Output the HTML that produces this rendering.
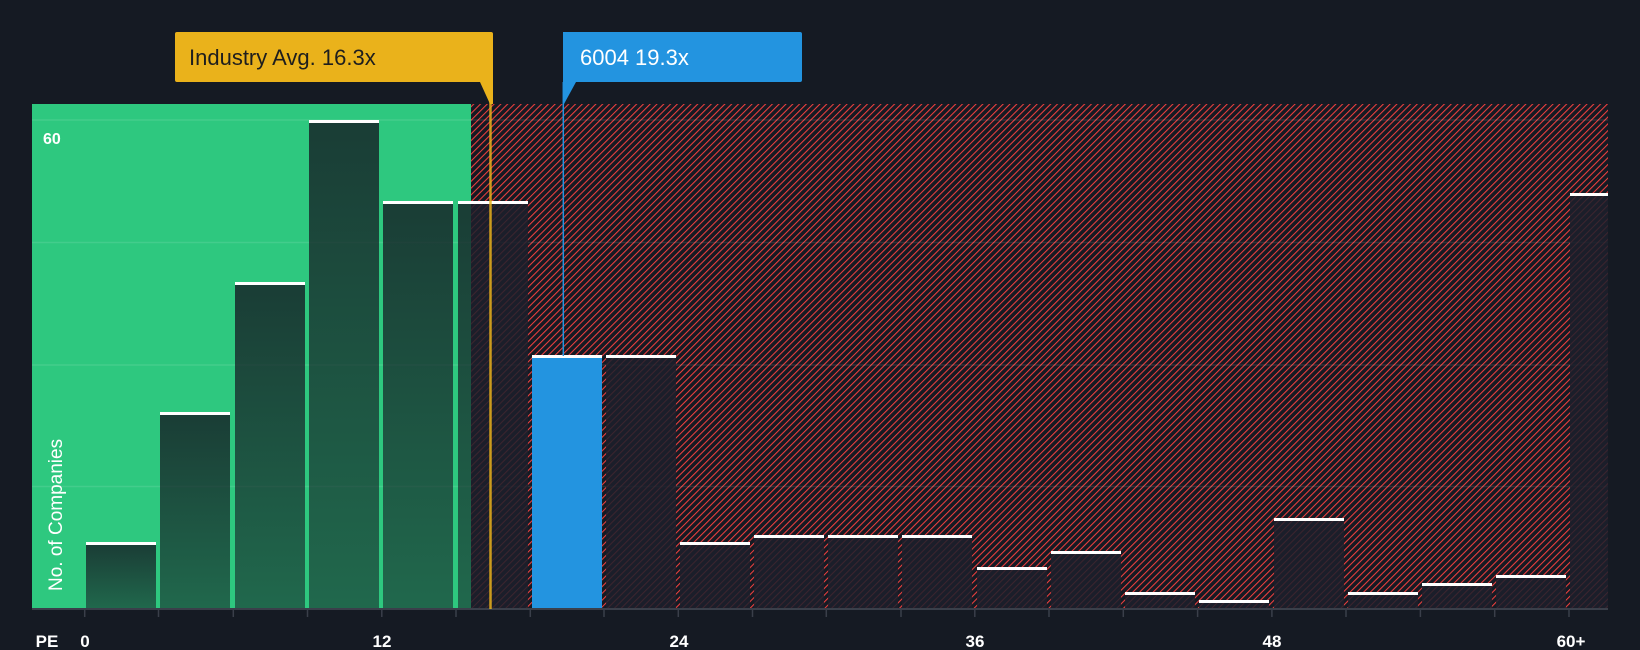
<!DOCTYPE html>
<html><head><meta charset="utf-8"><style>
html,body{margin:0;padding:0;background:#151a23;}
svg{display:block;font-family:"Liberation Sans",sans-serif;}
</style></head><body>
<svg width="1640" height="650" viewBox="0 0 1640 650" xmlns="http://www.w3.org/2000/svg">
<defs>
<pattern id="h" patternUnits="userSpaceOnUse" width="4.8" height="4.8" patternTransform="rotate(45)">
<rect width="4.8" height="4.8" fill="#151a23"/>
<line x1="0" y1="0" x2="0" y2="4.8" stroke="#f0403f" stroke-width="2.1"/>
</pattern>
<linearGradient id="g" x1="0" y1="0" x2="0" y2="1">
<stop offset="0" stop-color="#151a23" stop-opacity="0.8"/>
<stop offset="1" stop-color="#151a23" stop-opacity="0.55"/>
</linearGradient>
<clipPath id="cg"><rect x="0" y="0" width="471" height="650"/></clipPath>
<clipPath id="cr"><rect x="471" y="0" width="1200" height="650"/></clipPath>
<g id="bars">
<rect x="86" y="544" width="70" height="65"/>
<rect x="160" y="414" width="70" height="195"/>
<rect x="235" y="283" width="70" height="326"/>
<rect x="309" y="121" width="70" height="488"/>
<rect x="383" y="202" width="70" height="407"/>
<rect x="458" y="202" width="70" height="407"/>
<rect x="606" y="356" width="70" height="253"/>
<rect x="680" y="544" width="70" height="65"/>
<rect x="754" y="536" width="70" height="73"/>
<rect x="828" y="536" width="70" height="73"/>
<rect x="902" y="536" width="70" height="73"/>
<rect x="977" y="568" width="70" height="41"/>
<rect x="1051" y="552" width="70" height="57"/>
<rect x="1125" y="593" width="70" height="16"/>
<rect x="1199" y="601" width="70" height="8"/>
<rect x="1274" y="520" width="70" height="89"/>
<rect x="1348" y="593" width="70" height="16"/>
<rect x="1422" y="584" width="70" height="25"/>
<rect x="1496" y="576" width="70" height="33"/>
<rect x="1570" y="194" width="38" height="415"/>
</g>
</defs>
<rect width="1640" height="650" fill="#151a23"/>
<rect x="32" y="104" width="439" height="505" fill="#2ec87f"/>
<rect x="471" y="104" width="1137" height="505" fill="url(#h)"/>
<g stroke="#ffffff" stroke-opacity="0.1" stroke-width="1.5">
<line x1="32" y1="120" x2="1608" y2="120"/>
<line x1="32" y1="242.5" x2="1608" y2="242.5"/>
<line x1="32" y1="365" x2="1608" y2="365"/>
<line x1="32" y1="486.5" x2="1608" y2="486.5"/>
</g>
<use href="#bars" fill="url(#g)" clip-path="url(#cg)"/>
<use href="#bars" fill="#1c202b" fill-opacity="0.85" clip-path="url(#cr)"/>
<rect x="532" y="356" width="70" height="253" fill="#2394e0"/>
<g fill="#ffffff">
<rect x="86" y="542" width="70" height="3"/>
<rect x="160" y="412" width="70" height="3"/>
<rect x="235" y="282" width="70" height="3"/>
<rect x="309" y="120" width="70" height="3"/>
<rect x="383" y="201" width="70" height="3"/>
<rect x="458" y="201" width="70" height="3"/>
<rect x="532" y="355" width="70" height="3"/>
<rect x="606" y="355" width="70" height="3"/>
<rect x="680" y="542" width="70" height="3"/>
<rect x="754" y="535" width="70" height="3"/>
<rect x="828" y="535" width="70" height="3"/>
<rect x="902" y="535" width="70" height="3"/>
<rect x="977" y="567" width="70" height="3"/>
<rect x="1051" y="551" width="70" height="3"/>
<rect x="1125" y="592" width="70" height="3"/>
<rect x="1199" y="600" width="70" height="3"/>
<rect x="1274" y="518" width="70" height="3"/>
<rect x="1348" y="592" width="70" height="3"/>
<rect x="1422" y="583" width="70" height="3"/>
<rect x="1496" y="575" width="70" height="3"/>
<rect x="1570" y="193" width="38" height="3"/>
</g>
<line x1="32" y1="609" x2="1608" y2="609" stroke="#3a3f4a" stroke-width="2"/>
<g stroke="#3a3f4a" stroke-width="1.5">
<line x1="84.7" y1="609" x2="84.7" y2="617"/><line x1="158.5" y1="609" x2="158.5" y2="617"/><line x1="233.3" y1="609" x2="233.3" y2="617"/><line x1="307.5" y1="609" x2="307.5" y2="617"/><line x1="381.8" y1="609" x2="381.8" y2="617"/><line x1="456" y1="609" x2="456" y2="617"/><line x1="530.3" y1="609" x2="530.3" y2="617"/><line x1="604" y1="609" x2="604" y2="617"/><line x1="678.3" y1="609" x2="678.3" y2="617"/><line x1="752.5" y1="609" x2="752.5" y2="617"/><line x1="826.3" y1="609" x2="826.3" y2="617"/><line x1="901" y1="609" x2="901" y2="617"/><line x1="974.8" y1="609" x2="974.8" y2="617"/><line x1="1049" y1="609" x2="1049" y2="617"/><line x1="1123.3" y1="609" x2="1123.3" y2="617"/><line x1="1197.6" y1="609" x2="1197.6" y2="617"/><line x1="1271.9" y1="609" x2="1271.9" y2="617"/><line x1="1346" y1="609" x2="1346" y2="617"/><line x1="1420.4" y1="609" x2="1420.4" y2="617"/><line x1="1494.7" y1="609" x2="1494.7" y2="617"/><line x1="1569" y1="609" x2="1569" y2="617"/>
</g>
<line x1="490.5" y1="82" x2="490.5" y2="609" stroke="#eab21b" stroke-width="2.5" stroke-opacity="0.85"/>
<line x1="563.3" y1="82" x2="563.3" y2="356" stroke="#2394e0" stroke-width="1.5"/>
<path d="M175,34 Q175,32 177,32 L491,32 Q493,32 493,34 L493,104 L490,104 L480,82 L177,82 Q175,82 175,80 Z" fill="#eab21b"/>
<path d="M563,32 L800,32 Q802,32 802,34 L802,80 Q802,82 800,82 L576,82 L564,104 L563,104 Z" fill="#2394e0"/>
<text x="189" y="65" font-size="22" fill="#1e1e1e">Industry Avg. 16.3x</text>
<text x="580" y="65" font-size="22" fill="#ffffff">6004 19.3x</text>
<text x="43" y="144" font-size="16" font-weight="bold" fill="#ffffff">60</text>
<text transform="translate(62,591) rotate(-90)" font-size="19" fill="#ffffff">No. of Companies</text>
<g font-size="17" font-weight="bold" fill="#ffffff" text-anchor="middle">
<text x="47" y="647">PE</text>
<text x="85" y="647">0</text>
<text x="382" y="647">12</text>
<text x="679" y="647">24</text>
<text x="975" y="647">36</text>
<text x="1272" y="647">48</text>
<text x="1571" y="647">60+</text>
</g>
</svg>
</body></html>
